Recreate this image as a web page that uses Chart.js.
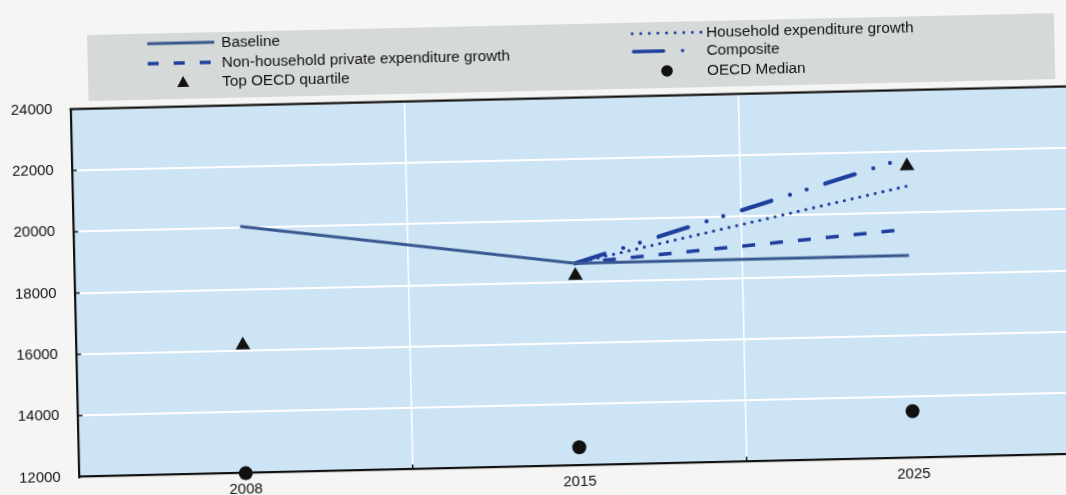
<!DOCTYPE html>
<html>
<head>
<meta charset="utf-8">
<title>Baseline and scenarios</title>
<script src="https://cdn.jsdelivr.net/npm/chart.js@4.4.1/dist/chart.umd.min.js"></script>
<style>
  html, body { margin: 0; padding: 0; width: 1066px; height: 495px; overflow: hidden; background: #f5f6f3; }
  #hoja {
    position: absolute; left: 0; top: 0; width: 1090px; height: 495px;
    background: #f5f6f3;
    transform: rotate(-1.306deg); transform-origin: 578px 290px;
    font-family: "Liberation Sans", Arial, sans-serif; color: #111;
  }
  #grafico { position: absolute; left: 0; top: 0; }
  #leyenda { position: absolute; left: 93px; top: 24px; width: 967px; height: 66px; background: #d5d9d8; }
  .item { position: absolute; height: 18px; }
  .item svg { position: absolute; left: 0; top: 2px; }
  .item span { position: absolute; top: 0; left: 77px; font-size: 15.3px; line-height: 18px; white-space: nowrap; }
</style>
</head>
<body>
<div id="hoja">
  <div id="leyenda"></div>
  <canvas id="grafico" width="1090" height="495"></canvas>
</div>
<script>
// datos
const anios = ['2008', '2015', '2025'];
const nombres = [
    'Baseline',
    'Non-household private expenditure growth',
    'Household expenditure growth',
    'Composite',
    'Top OECD quartile',
    'OECD Median'
];
const baseline = [20050, 18600, 18610];
const noHogares = [null, 18600, 19470];
const hogares = [null, 18600, 20875];
const compuesto = [null, 18600, 21800];
const cuartilSuperior = [16180, 18200, 21530];
const medianaOCDE = [12000, 12600, 13530];
const ticksY = [12000, 14000, 16000, 18000, 20000, 22000, 24000];

const colorBase = '#3a5890';
const colorProy = '#1f3f9e';
const negro = '#111111';
const fuente = '"Liberation Sans", Arial, sans-serif';

// leyenda en html (dos columnas)
function muestra(tipo) {
    switch (tipo) {
        case 'solida':
            return '<line x1="3" y1="7" x2="70" y2="7" stroke="' + colorBase + '" stroke-width="3"/>';
        case 'rayas':
            return '<line x1="3" y1="7" x2="70" y2="7" stroke="' + colorProy + '" stroke-width="3.5" stroke-dasharray="11 15"/>';
        case 'puntos':
            return '<line x1="3" y1="7" x2="72" y2="7" stroke="' + colorProy + '" stroke-width="3" stroke-linecap="round" stroke-dasharray="0 8.6"/>';
        case 'compuesta':
            return '<line x1="4" y1="7" x2="73" y2="7" stroke="' + colorProy + '" stroke-width="3.5" stroke-linecap="round" stroke-dasharray="30 19 0 100"/>';
        case 'triangulo':
            return '<polygon points="38,1 44,12 32,12" fill="' + negro + '"/>';
        case 'circulo':
            return '<circle cx="37" cy="7" r="5.8" fill="' + negro + '"/>';
    }
}

const itemsLeyenda = [
    { serie: 0, tipo: 'solida', x: 150, y: 34 },
    { serie: 1, tipo: 'rayas', x: 150, y: 54 },
    { serie: 4, tipo: 'triangulo', x: 150, y: 73 },
    { serie: 2, tipo: 'puntos', x: 635, y: 35 },
    { serie: 3, tipo: 'compuesta', x: 635, y: 53 },
    { serie: 5, tipo: 'circulo', x: 635, y: 73 }
];

const hoja = document.getElementById('hoja');
itemsLeyenda.forEach(item => {
    const div = document.createElement('div');
    div.className = 'item';
    div.style.left = item.x + 'px';
    div.style.top = (item.y - 9) + 'px';
    div.innerHTML = '<svg width="76" height="14">' + muestra(item.tipo) + '</svg>' +
        '<span>' + nombres[item.serie] + '</span>';
    hoja.appendChild(div);
});

// fondo azul, marco superior y marcas hacia adentro
const marcoPlugin = {
    id: 'marco',
    beforeDraw(chart) {
        const a = chart.chartArea;
        const ctx = chart.ctx;
        ctx.save();
        ctx.fillStyle = '#cde4f5';
        ctx.fillRect(a.left, a.top, a.right - a.left, a.bottom - a.top);
        ctx.restore();
    },
    beforeDatasetsDraw(chart) {
        const a = chart.chartArea;
        const ctx = chart.ctx;
        const ejeY = chart.scales.y;
        const ejeX = chart.scales.x;
        ctx.save();
        ctx.strokeStyle = negro;
        ctx.lineWidth = 2.2;
        ctx.beginPath();
        ctx.moveTo(a.left - 1, a.top);
        ctx.lineTo(a.right, a.top);
        ctx.stroke();

        ctx.lineWidth = 1.5;
        ejeY.ticks.forEach(t => {
            if (t.value == ejeY.min || t.value == ejeY.max) return;
            const y = ejeY.getPixelForValue(t.value);
            ctx.beginPath();
            ctx.moveTo(a.left, y);
            ctx.lineTo(a.left + 5, y);
            ctx.stroke();
        });
        for (let i = 0; i < anios.length - 1; i++) {
            const x = (ejeX.getPixelForTick(i) + ejeX.getPixelForTick(i + 1)) / 2;
            ctx.beginPath();
            ctx.moveTo(x, a.bottom);
            ctx.lineTo(x, a.bottom - 5);
            ctx.stroke();
        }
        ctx.restore();
    }
};

const ctx = document.getElementById('grafico').getContext('2d');
new Chart(ctx, {
    type: 'line',
    data: {
        labels: anios,
        datasets: [
            {
                label: nombres[0],
                data: baseline,
                borderColor: colorBase,
                borderWidth: 3,
                pointRadius: 0,
                pointHoverRadius: 0
            },
            {
                label: nombres[1],
                data: noHogares,
                borderColor: colorProy,
                borderWidth: 3.5,
                borderDash: [13, 15],
                pointRadius: 0,
                pointHoverRadius: 0
            },
            {
                label: nombres[2],
                data: hogares,
                borderColor: colorProy,
                borderWidth: 3.2,
                borderDash: [0, 7.9],
                borderCapStyle: 'round',
                pointRadius: 0,
                pointHoverRadius: 0
            },
            {
                label: nombres[3],
                data: compuesto,
                borderColor: colorProy,
                borderWidth: 4.2,
                borderDash: [31, 19.5, 0, 17.5, 0, 19.5],
                borderCapStyle: 'round',
                pointRadius: 0,
                pointHoverRadius: 0
            },
            {
                label: nombres[4],
                data: cuartilSuperior,
                showLine: false,
                pointStyle: 'triangle',
                pointRadius: 8.5,
                pointBackgroundColor: negro,
                pointBorderWidth: 0,
                clip: false
            },
            {
                label: nombres[5],
                data: medianaOCDE,
                showLine: false,
                pointStyle: 'circle',
                pointRadius: 7,
                pointBackgroundColor: negro,
                pointBorderWidth: 0,
                clip: false
            }
        ]
    },
    options: {
        responsive: false,
        animation: false,
        layout: {
            padding: { top: 97.7, right: 13.3, left: 0, bottom: 0 }
        },
        plugins: {
            legend: { display: false },
            tooltip: { enabled: false }
        },
        scales: {
            x: {
                offset: true,
                grid: { offset: true, color: '#ffffff', lineWidth: 1.5, drawTicks: false },
                border: { color: negro, width: 2.2 },
                ticks: { color: '#111', font: { family: fuente, size: 15 }, padding: 7, maxRotation: 0 },
                afterFit: function (scale) { scale.height = 29.4; }
            },
            y: {
                min: 12000,
                max: 24000,
                afterBuildTicks: function (scale) {
                    scale.ticks = ticksY.map(v => ({ value: v }));
                },
                grid: { color: '#ffffff', lineWidth: 2, drawTicks: false },
                border: { color: negro, width: 2.2 },
                ticks: {
                    color: '#111',
                    font: { family: fuente, size: 15 },
                    padding: 18,
                    callback: v => String(v)
                },
                afterFit: function (scale) { scale.width = 74.7; }
            }
        }
    },
    plugins: [marcoPlugin]
});
</script>
</body>
</html>
